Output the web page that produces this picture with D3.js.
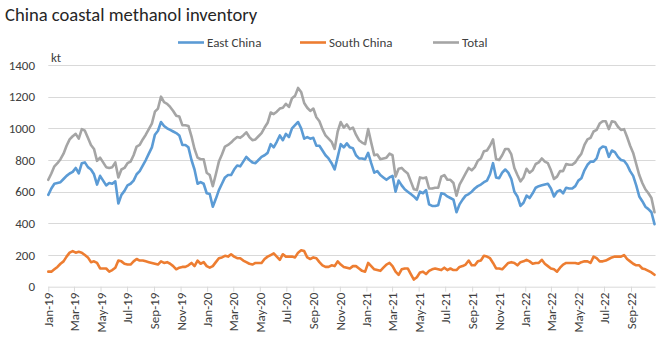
<!DOCTYPE html>
<html><head><meta charset="utf-8">
<script src="https://cdn.jsdelivr.net/npm/d3@7"></script>
<style>
body{margin:0;background:#fff;}
text{font-family:Carlito,Calibri,Lato,"Open Sans",sans-serif;}
</style></head>
<body><svg id="c" width="660" height="343"></svg>
<script>
const title = "China coastal methanol inventory";
const seriesNames = ["East China","South China","Total"];
const seriesColors = ["#5b9bd5","#ed7d31","#a5a5a5"];
const firstWeek = "2019-01-04";
const tickLabels = ["Jan-19","Mar-19","May-19","Jul-19","Sep-19","Nov-19","Jan-20","Mar-20","May-20","Jul-20","Sep-20","Nov-20","Jan-21","Mar-21","May-21","Jul-21","Sep-21","Nov-21","Jan-22","Mar-22","May-22","Jul-22","Sep-22"];
const yTicks = [0,200,400,600,800,1000,1200,1400];

const eastChina = [580,620,650,655,660,680,700,715,725,750,715,780,785,755,740,710,645,700,670,640,
655,650,665,525,580,605,640,650,670,710,730,765,800,840,880,960,985,1040,1015,1000,
990,980,970,955,895,895,880,800,740,650,660,650,590,585,505,555,610,650,690,705,
705,740,765,760,790,820,800,785,780,800,820,830,845,900,880,915,955,925,965,945,
1000,1020,1040,1000,935,945,935,940,890,890,860,830,810,780,740,820,900,880,905,880,
875,830,810,810,805,845,780,720,730,705,690,675,690,700,600,670,640,615,600,585,
570,550,600,590,610,520,510,510,515,590,585,570,560,550,470,520,550,575,585,600,
620,635,645,660,670,710,780,690,685,720,740,720,680,600,570,510,530,575,560,590,
625,635,640,645,650,620,570,600,610,590,625,620,620,635,670,685,735,770,790,790,
810,870,885,880,820,860,850,820,800,795,770,730,700,640,570,540,505,490,470,395];

const southChina = [95,95,110,125,145,160,190,215,225,215,220,215,200,185,155,160,150,115,115,115,
95,105,120,165,160,145,140,140,160,175,165,165,160,155,150,145,140,160,150,155,
145,130,110,120,125,125,135,150,130,165,145,155,130,120,130,155,180,185,195,190,
205,190,180,180,165,155,145,140,150,150,150,175,190,200,210,190,170,205,190,190,
190,185,215,230,225,185,175,185,180,155,135,125,125,135,130,160,140,125,120,115,
130,130,115,100,95,150,130,110,105,100,120,140,150,130,95,75,110,115,115,80,
45,60,90,95,80,100,110,115,110,105,120,105,115,105,105,125,130,140,165,135,
135,160,165,195,190,180,150,115,115,110,130,150,155,150,135,155,160,170,160,145,
150,150,170,145,130,115,110,95,120,140,150,150,150,150,145,155,160,160,150,190,
180,160,160,165,175,185,190,190,190,200,175,160,145,135,135,115,110,100,90,75];

const totalChina = [675,715,760,780,805,840,890,930,950,965,935,995,985,940,895,870,795,815,785,755,
750,755,785,690,740,750,780,790,830,885,895,930,960,995,1030,1105,1125,1200,1165,1155,
1135,1110,1080,1075,1020,1020,1015,950,870,815,805,805,720,705,635,710,790,835,885,895,
910,930,945,940,955,975,945,925,930,950,970,1005,1035,1100,1090,1105,1125,1130,1155,1135,
1190,1205,1255,1230,1160,1130,1110,1125,1070,1045,995,955,935,915,870,980,1040,1005,1025,995,
1005,960,925,910,900,995,910,830,835,805,810,815,840,830,695,745,750,730,715,665,
615,610,690,685,690,620,620,625,625,695,705,675,675,655,575,645,680,715,750,735,
755,795,810,855,860,890,930,805,800,830,870,870,835,750,705,665,690,745,720,735,
775,785,810,790,780,735,680,695,730,730,775,770,770,785,815,840,895,930,940,980,
990,1030,1045,1045,995,1045,1040,1010,990,995,945,890,845,775,705,655,615,590,560,470];

const svg = d3.select("#c");
const start = new Date(firstWeek + "T00:00:00");
const dates = eastChina.map((_, i) => d3.timeDay.offset(start, 7 * i));
const x = d3.scaleTime().domain([dates[0], dates[dates.length - 1]]).range([48.3, 654.5]);
const y = d3.scaleLinear().domain([0, 1400]).range([286.7, 65]);

// gridlines
svg.append("g").selectAll("line").data(yTicks.filter(d => d > 0)).join("line")
  .attr("x1", 48.3).attr("x2", 655.5)
  .attr("y1", d => Math.round(y(d)) + 0.5).attr("y2", d => Math.round(y(d)) + 0.5)
  .attr("stroke", "#d9d9d9").attr("stroke-width", 1);

// y axis labels
svg.append("g").selectAll("text").data(yTicks).join("text")
  .attr("x", 35).attr("y", d => y(d)).attr("dy", "0.35em")
  .attr("text-anchor", "end").attr("font-size", 13).attr("fill", "#404040")
  .text(d => d);

// x axis
const tickDates = tickLabels.map((_, k) => d3.timeMonth.offset(start, 2 * k));
const xAxis = d3.axisBottom(x).tickValues(tickDates).tickSize(5).tickFormat((d, k) => tickLabels[k]);
const gx = svg.append("g").attr("transform", "translate(0,286.7)").call(xAxis);
gx.select(".domain").attr("stroke", "#d9d9d9").attr("d", "M48.3,0.5H655.5");
gx.selectAll(".tick line").attr("stroke", "#d9d9d9");
gx.selectAll(".tick text")
  .attr("font-size", 13).attr("fill", "#404040")
  .attr("text-anchor", "end")
  .attr("transform", "translate(0,6) rotate(-90)")
  .attr("x", 0).attr("y", 0).attr("dy", "0.35em");

// lines
const seriesData = [eastChina, southChina, totalChina];
const line = d3.line().x((d, i) => x(dates[i])).y(d => y(d));
const drawOrder = [2, 0, 1];
drawOrder.forEach(s => {
  svg.append("path").datum(seriesData[s])
    .attr("fill", "none").attr("stroke", seriesColors[s])
    .attr("stroke-width", 2.6).attr("stroke-linejoin", "round").attr("stroke-linecap", "round")
    .attr("d", line);
});

// title
svg.append("text").attr("x", 5).attr("y", 20.5).attr("font-size", 18.6).attr("fill", "#262626").text(title);

// kt
svg.append("text").attr("x", 51).attr("y", 62).attr("font-size", 13).attr("fill", "#404040").text("kt");

// legend
const legendX = [178, 300, 433];
seriesNames.forEach((n, i) => {
  const g = svg.append("g");
  g.append("line").attr("x1", legendX[i]).attr("x2", legendX[i] + 26)
    .attr("y1", 42.5).attr("y2", 42.5).attr("stroke", seriesColors[i]).attr("stroke-width", 2.6);
  g.append("text").attr("x", legendX[i] + 29).attr("y", 42.5).attr("dy", "0.35em")
    .attr("font-size", 13).attr("fill", "#404040").text(n);
});
</script></body></html>
